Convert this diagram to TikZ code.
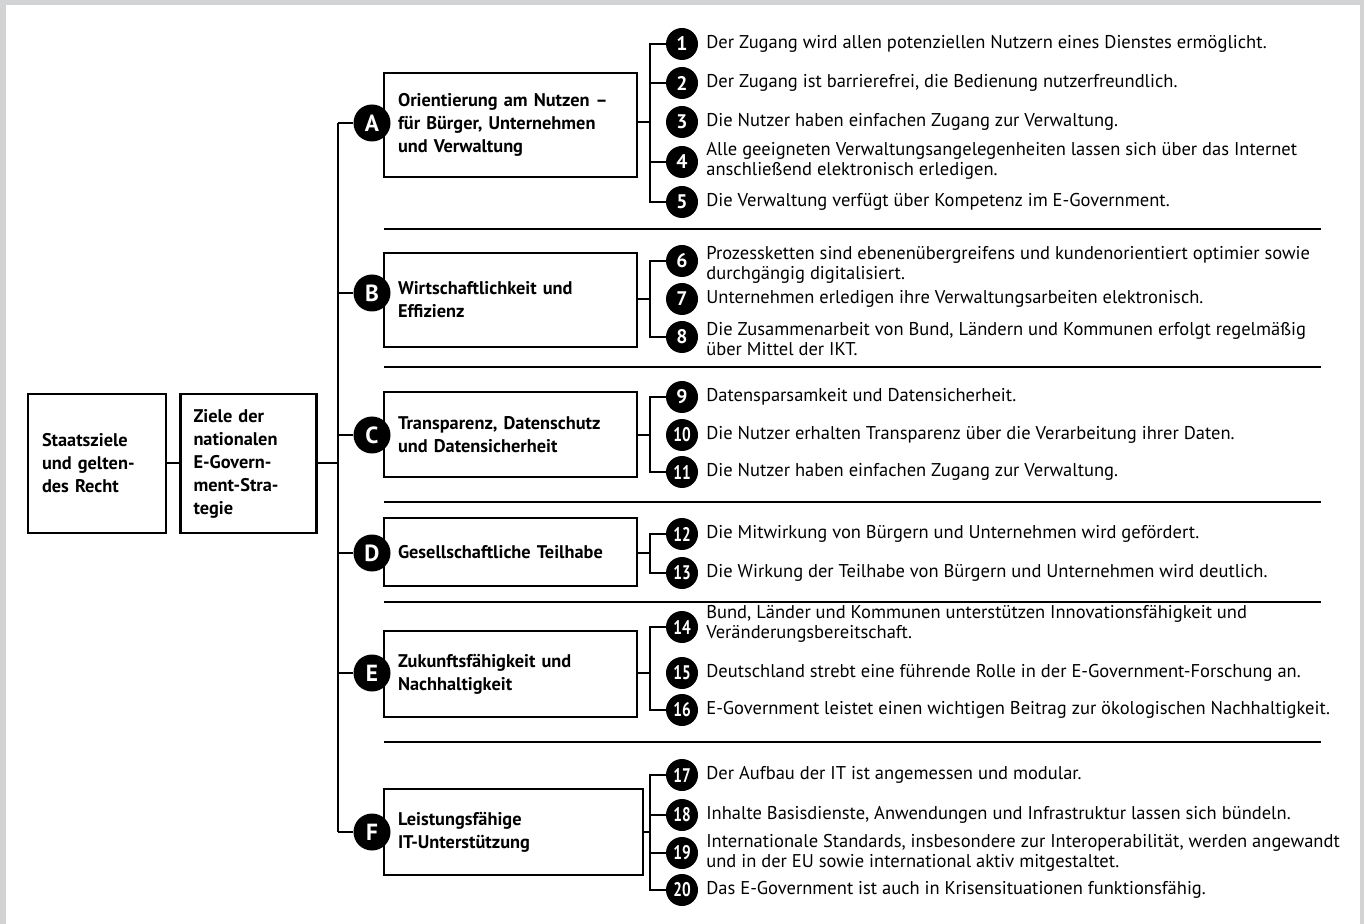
\documentclass[tikz,border=0pt]{standalone}
\usepackage{fontspec}
\setmainfont{PT Sans}
\definecolor{framegray}{HTML}{D1D3D4}
\newcommand{\twodig}[1]{\scalebox{0.78}[1]{#1}}
\begin{document}
\begin{tikzpicture}[x=0.6pt, y=-0.6pt,
    goal/.style={draw, line width=1.3pt, align=left, inner xsep=8.4pt, inner ysep=0pt,
        font=\bfseries\fontsize{11}{13.8}\selectfont},
    lettr/.style={circle, fill=black, text=white, inner sep=0pt, minimum size=22.2pt,
        font=\bfseries\fontsize{14}{14}\selectfont},
    numbr/.style={circle, fill=black, text=white, inner sep=0pt, minimum size=19.2pt,
        font=\bfseries\fontsize{11.8}{12}\selectfont},
    item/.style={anchor=west, inner sep=0pt, align=left, font=\fontsize{11.1}{12}\selectfont},
    conn/.style={line width=1.2pt},
    sep/.style={line width=1.4pt}]
    \useasboundingbox (0,0) rectangle (1364,924);
    % Frame
    \fill[framegray] (0,0) rectangle (1364,924);
    \fill[white] (6,5) rectangle (1360,924);

    % Left boxes
    \node[goal, text width=66pt, minimum height=83.4pt] (staat) at (97,463.5) {Staatsziele\\und gelten-\\des Recht};
    \node[goal, text width=66pt, minimum height=83.4pt, inner xsep=7.8pt] (ziele) at (248.5,463.5) {Ziele der\\nationalen\\E-Govern-\\ment-Stra-\\tegie};
    \coordinate (trunk) at (338,466);

    % Goal boxes
    \node[goal, text width=135pt, minimum height=62.4pt] (boxA) at (510.5,125) {Orientierung am Nutzen –\\für Bürger, Unternehmen\\und Verwaltung};
    \node[goal, text width=135pt, minimum height=56.4pt] (boxB) at (510.5,300) {Wirtschaftlichkeit und\\Effizienz};
    \node[goal, text width=135pt, minimum height=51pt] (boxC) at (510.5,434.5) {Transparenz, Datenschutz\\und Datensicherheit};
    \node[goal, text width=135pt, minimum height=40.8pt] (boxD) at (510.5,552) {Gesellschaftliche Teilhabe};
    \node[goal, text width=135pt, minimum height=51.6pt] (boxE) at (510.5,674) {Zukunftsfähigkeit und\\Nachhaltigkeit};
    \node[goal, text width=138.6pt, minimum height=51.6pt] (boxF) at (513.5,832) {Leistungsfähige\\IT-Unterstützung};

    % Letters
    \node[lettr] (catA) at (372,123) {A};
    \node[lettr] (catB) at (372,293) {B};
    \node[lettr] (catC) at (372,435) {C};
    \node[lettr] (catD) at (372,553) {D};
    \node[lettr] (catE) at (372,673) {E};
    \node[lettr] (catF) at (372,832) {F};

    % Separators
    \foreach \y in {229,367,502,602,742}
        \draw[sep] (384,\y) -- (1321,\y);

    % Items
    \node[numbr] (n1) at (682,44) {1};
    \node[item] (t1) at (706,44) {Der Zugang wird allen potenziellen Nutzern eines Dienstes ermöglicht.};
    \node[numbr] (n2) at (682,83) {2};
    \node[item] (t2) at (706,83) {Der Zugang ist barrierefrei, die Bedienung nutzerfreundlich.};
    \node[numbr] (n3) at (682,122) {3};
    \node[item] (t3) at (706,122) {Die Nutzer haben einfachen Zugang zur Verwaltung.};
    \node[numbr] (n4) at (682,162) {4};
    \node[item] (t4) at (706,161) {Alle geeigneten Verwaltungsangelegenheiten lassen sich über das Internet\\anschließend elektronisch erledigen.};
    \node[numbr] (n5) at (682,202) {5};
    \node[item] (t5) at (706,202) {Die Verwaltung verfügt über Kompetenz im E-Government.};

    \node[numbr] (n6) at (682,261) {6};
    \node[item] (t6) at (706,265) {Prozessketten sind ebenenübergreifens und kundenorientiert optimier sowie\\durchgängig digitalisiert.};
    \node[numbr] (n7) at (682,299) {7};
    \node[item] (t7) at (706,299) {Unternehmen erledigen ihre Verwaltungsarbeiten elektronisch.};
    \node[numbr] (n8) at (682,337) {8};
    \node[item] (t8) at (706,339) {Die Zusammenarbeit von Bund, Ländern und Kommunen erfolgt regelmäßig\\über Mittel der IKT.};

    \node[numbr] (n9) at (682,397) {9};
    \node[item] (t9) at (706,397) {Datensparsamkeit und Datensicherheit.};
    \node[numbr] (n10) at (682,435) {\twodig{10}};
    \node[item] (t10) at (706,435) {Die Nutzer erhalten Transparenz über die Verarbeitung ihrer Daten.};
    \node[numbr] (n11) at (682,472) {\twodig{11}};
    \node[item] (t11) at (706,472) {Die Nutzer haben einfachen Zugang zur Verwaltung.};

    \node[numbr] (n12) at (682,534) {\twodig{12}};
    \node[item] (t12) at (706,534) {Die Mitwirkung von Bürgern und Unternehmen wird gefördert.};
    \node[numbr] (n13) at (682,573) {\twodig{13}};
    \node[item] (t13) at (706,573) {Die Wirkung der Teilhabe von Bürgern und Unternehmen wird deutlich.};

    \node[numbr] (n14) at (682,627) {\twodig{14}};
    \node[item] (t14) at (706,624) {Bund, Länder und Kommunen unterstützen Innovationsfähigkeit und\\Veränderungsbereitschaft.};
    \node[numbr] (n15) at (682,673) {\twodig{15}};
    \node[item] (t15) at (706,673) {Deutschland strebt eine führende Rolle in der E-Government-Forschung an.};
    \node[numbr] (n16) at (682,710) {\twodig{16}};
    \node[item] (t16) at (706,710) {E-Government leistet einen wichtigen Beitrag zur ökologischen Nachhaltigkeit.};

    \node[numbr] (n17) at (682,775) {\twodig{17}};
    \node[item] (t17) at (706,775) {Der Aufbau der IT ist angemessen und modular.};
    \node[numbr] (n18) at (682,815) {\twodig{18}};
    \node[item] (t18) at (706,815) {Inhalte Basisdienste, Anwendungen und Infrastruktur lassen sich bündeln.};
    \node[numbr] (n19) at (682,853) {\twodig{19}};
    \node[item] (t19) at (706,853) {Internationale Standards, insbesondere zur Interoperabilität, werden angewandt\\und in der EU sowie international aktiv mitgestaltet.};
    \node[numbr] (n20) at (682,890) {\twodig{20}};
    \node[item] (t20) at (706,890) {Das E-Government ist auch in Krisensituationen funktionsfähig.};

    % Brackets
    \coordinate (brA) at (650,122);
    \coordinate (brB) at (650,299);
    \coordinate (brC) at (650,435);
    \coordinate (brD) at (650,553);
    \coordinate (brE) at (650,673);
    \coordinate (brF) at (650,832);

    % Connectors
    \draw[conn] (staat) -- (ziele);
    \draw[conn] (ziele.east) -- (ziele.east -| trunk);
    \draw[conn] (catA.west -| trunk) -- (catF.west -| trunk);
    \foreach \c in {A,B,C,D,E,F}
        \draw[conn] (cat\c.west) -- (cat\c.west -| trunk);
    \foreach \c in {A,B,C,D,E,F}
        \draw[conn] (box\c.east |- br\c) -- (br\c);
    \draw[conn] (n1.west) -| (brA) |- (n5.west);
    \draw[conn] (n2.west) -- (n2.west -| brA);
    \draw[conn] (n4.west) -- (n4.west -| brA);
    \draw[conn] (n6.west) -| (brB) |- (n8.west);
    \draw[conn] (n9.west) -| (brC) |- (n11.west);
    \draw[conn] (n12.west) -| (brD) |- (n13.west);
    \draw[conn] (n14.west) -| (brE) |- (n16.west);
    \draw[conn] (n17.west) -| (brF) |- (n20.west);
    \draw[conn] (n18.west) -- (n18.west -| brF);
    \draw[conn] (n19.west) -- (n19.west -| brF);
\end{tikzpicture}
\end{document}
